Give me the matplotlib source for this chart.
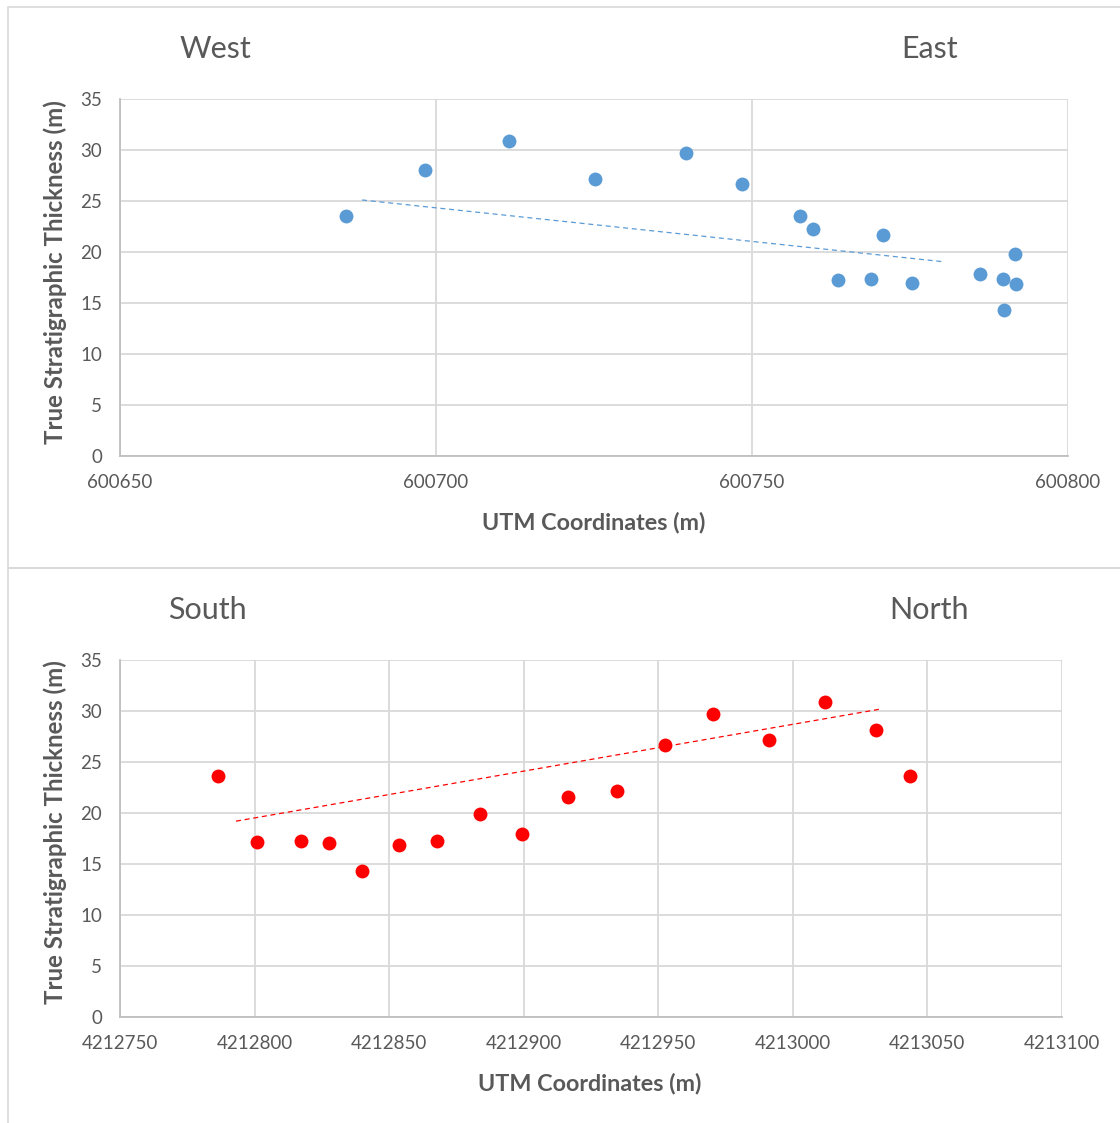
import matplotlib
matplotlib.use("Agg")
import matplotlib.pyplot as plt
from matplotlib.patches import Rectangle

plt.rcParams['font.family'] = ['Lato', 'DejaVu Sans']

# Data
thickness = [23.5, 28.0, 30.9, 27.2, 29.7, 26.7, 23.5, 22.3, 17.3, 17.4,
             21.7, 17.0, 17.8, 17.4, 14.3, 19.8, 16.9]
easting = [600685.8, 600698.3, 600711.6, 600725.2, 600739.6, 600748.4,
           600757.6, 600759.7, 600763.6, 600768.8, 600770.7, 600775.3,
           600786.1, 600789.7, 600789.9, 600791.6, 600791.8]

northing = [4212786.4, 4212800.9, 4212817.3, 4212827.7, 4212840.0, 4212853.7,
            4212867.8, 4212883.8, 4212899.4, 4212916.5, 4212934.8, 4212952.6,
            4212970.4, 4212991.3, 4213012.1, 4213031.0, 4213043.7]
thickness_ns = [23.6, 17.2, 17.3, 17.1, 14.3, 16.9, 17.3, 19.9, 17.9, 21.6,
                22.2, 26.7, 29.7, 27.2, 30.9, 28.1, 23.6]

# trendline end points as drawn
trend_ew_x = [600688.3, 600780.2]
trend_ew_y = [25.1, 19.05]
trend_ns_x = [4212793.1, 4213032.8]
trend_ns_y = [19.2, 30.2]

ew_ticks = [600650, 600700, 600750, 600800]
ns_ticks = [4212750, 4212800, 4212850, 4212900, 4212950, 4213000, 4213050, 4213100]
y_ticks = [0, 5, 10, 15, 20, 25, 30, 35]

BLUE = '#5B9BD5'
RED = '#FF0000'
TXT = '#595959'
GRID = '#D9D9D9'

W, H = 1120, 1123
fig = plt.figure(figsize=(W / 100, H / 100), dpi=100)

# panel frames
for (y0, y1) in [(7, 567.5), (567.5, 1130)]:
    fig.patches.append(Rectangle((7.5 / W, 1 - y1 / H), (W + 10) / W, (y1 - y0) / H,
                                 transform=fig.transFigure, fill=False,
                                 edgecolor=GRID, linewidth=1.2))


def style(ax, xticks, xlim):
    ax.set_xlim(xlim)
    ax.set_ylim(0, 35)
    ax.set_xticks(xticks)
    ax.set_yticks(y_ticks)
    ax.set_xticklabels([str(t) for t in xticks])
    ax.grid(True, color=GRID, linewidth=1.3)
    ax.set_axisbelow(True)
    for s in ['top', 'right']:
        ax.spines[s].set_visible(False)
    for s in ['left', 'bottom']:
        ax.spines[s].set_color('#BFBFBF')
        ax.spines[s].set_linewidth(1.3)
    ax.tick_params(length=0, labelsize=13.5, labelcolor=TXT, pad=13)
    ax.set_xlabel('UTM Coordinates (m)', fontsize=16.8, fontweight='bold', color=TXT, va='center')
    ax.set_ylabel('True Stratigraphic Thickness (m)', fontsize=17.3, fontweight='bold', color=TXT, va='center')


# Top: West-East
ax1 = fig.add_axes([120 / W, 1 - 456 / H, 948 / W, 357 / H])
ax1.scatter(easting, thickness, s=100, color=BLUE, zorder=3, linewidths=0)
ax1.plot(trend_ew_x, trend_ew_y, color=BLUE, linewidth=0.9, dashes=(4, 3), zorder=2)
style(ax1, ew_ticks, (600650, 600800))
ax1.xaxis.set_label_coords(0.5, -0.185)
ax1.yaxis.set_label_coords(-0.0686, 0.514)
fig.text(215 / W, 1 - 49 / H, 'West', fontsize=22, color=TXT, ha='center', va='center')
fig.text(930 / W, 1 - 49 / H, 'East', fontsize=22, color=TXT, ha='center', va='center')

# Bottom: South-North
ax2 = fig.add_axes([120 / W, 1 - 1017 / H, 942 / W, 357 / H])
ax2.scatter(northing, thickness_ns, s=100, color=RED, zorder=3, linewidths=0)
ax2.plot(trend_ns_x, trend_ns_y, color=RED, linewidth=0.9, dashes=(4, 3), zorder=2)
style(ax2, ns_ticks, (4212750, 4213100))
ax2.xaxis.set_label_coords(0.499, -0.185)
ax2.yaxis.set_label_coords(-0.069, 0.518)
fig.text(207 / W, 1 - 610 / H, 'South', fontsize=22, color=TXT, ha='center', va='center')
fig.text(929 / W, 1 - 610 / H, 'North', fontsize=22, color=TXT, ha='center', va='center')

fig.savefig('out.png', dpi=100)
